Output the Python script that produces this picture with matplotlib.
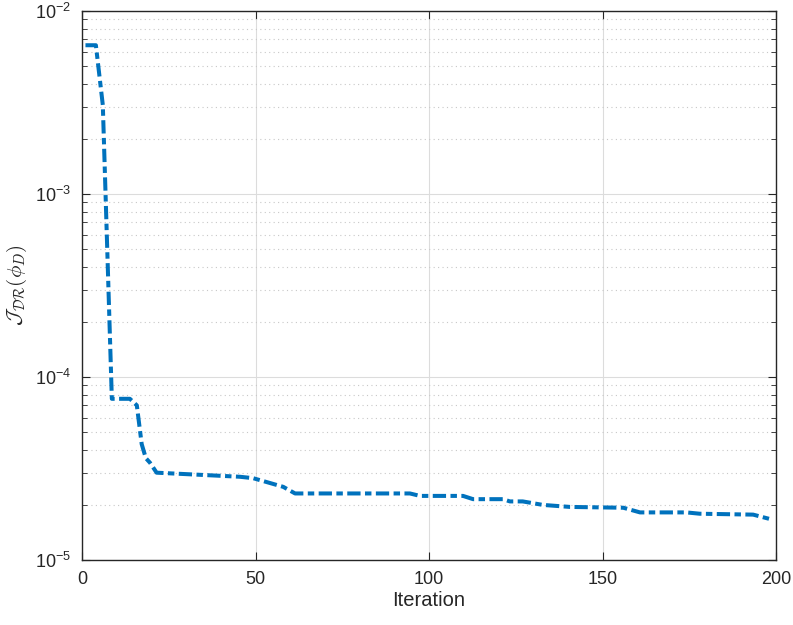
import math
import matplotlib
matplotlib.use("Agg")
import matplotlib.pyplot as plt
from matplotlib.ticker import LogLocator, FixedLocator, FuncFormatter, NullFormatter

# values (iteration, objective)
iterations = [1, 4, 6, 8.6, 13.8, 15.8, 17.2, 18.4, 19.6, 21.5, 45.5, 49.3, 54, 58, 61.4,
              94.5, 97.4, 109.8, 112.7, 121.3, 123.3, 127, 132.8, 140.6, 156, 160.8,
              174.2, 178, 193.4, 199]
objective = [6.5e-3, 6.5e-3, 3.06e-3, 7.6e-5, 7.6e-5, 7.0e-5, 4.3e-5, 3.6e-5, 3.4e-5, 3.0e-5,
             2.85e-5, 2.8e-5, 2.64e-5, 2.51e-5, 2.31e-5,
             2.31e-5, 2.24e-5, 2.24e-5, 2.15e-5, 2.15e-5, 2.09e-5, 2.09e-5, 2.0e-5, 1.95e-5,
             1.93e-5, 1.82e-5, 1.82e-5, 1.79e-5, 1.77e-5, 1.66e-5]
x_ticks = [0, 50, 100, 150, 200]
y_decades = [1e-5, 1e-4, 1e-3, 1e-2]

plt.rcParams['font.family'] = ['Liberation Sans', 'DejaVu Sans']
plt.rcParams['mathtext.fontset'] = 'custom'
plt.rcParams['mathtext.rm'] = 'Liberation Sans'
plt.rcParams['mathtext.it'] = 'Liberation Sans:italic'


def decade_label(v, pos):
    return r'$\mathregular{10^{%d}}$' % round(math.log10(v))


fig = plt.figure(figsize=(7.93, 6.25), dpi=100)
ax = fig.add_axes([0.1034, 0.104, 0.8752, 0.8784])

ax.plot(iterations, objective, color='#0072BD', linewidth=2.9,
        linestyle=(0, (3.3, 1.1, 1.6, 1.1)))

ax.set_yscale('log')
ax.set_xlim(0, 200)
ax.set_ylim(1e-5, 1e-2)

ax.xaxis.set_major_locator(FixedLocator(x_ticks))
ax.yaxis.set_major_locator(FixedLocator(y_decades))
ax.yaxis.set_minor_locator(LogLocator(base=10, subs=range(2, 10)))
ax.yaxis.set_minor_formatter(NullFormatter())
ax.yaxis.set_major_formatter(FuncFormatter(decade_label))

ax.grid(True, which='major', color='#dcdcdc', linewidth=0.8, linestyle='-')
ax.grid(True, which='minor', axis='y', color='#c8c8c8', linewidth=0.8, linestyle=(0, (1, 3)))
ax.set_axisbelow(True)

for s in ax.spines.values():
    s.set_color('#262626')
    s.set_linewidth(1.0)
ax.tick_params(which='both', direction='in', top=True, right=True, colors='#262626',
               labelsize=13, labelcolor='#262626')
ax.tick_params(which='major', length=6, pad=8)
ax.tick_params(which='minor', length=3.5)

ax.set_xlabel('Iteration', fontsize=14.5, color='#262626', labelpad=2)
ax.set_ylabel(r'$\mathcal{J}_{\mathcal{DR}}(\phi_D)$', fontsize=15, color='#262626',
              math_fontfamily='cm', labelpad=4)

fig.savefig('out.png', dpi=100)
